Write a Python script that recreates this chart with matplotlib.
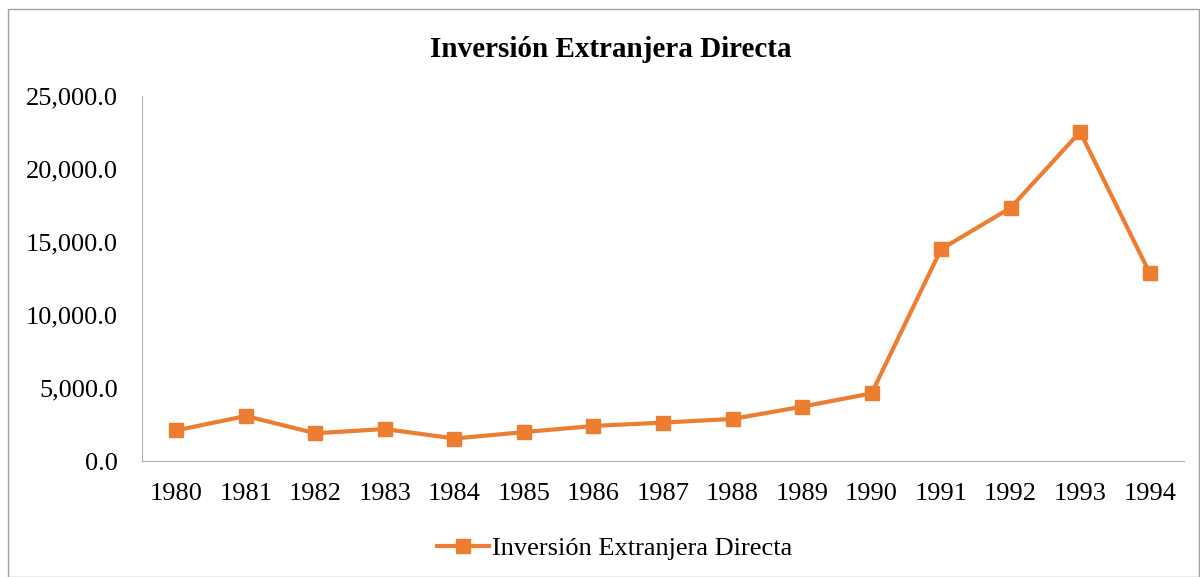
import matplotlib.pyplot as plt
from matplotlib.patches import Rectangle
from matplotlib.ticker import FuncFormatter

# Datos
anios = ['1980', '1981', '1982', '1983', '1984', '1985', '1986', '1987',
         '1988', '1989', '1990', '1991', '1992', '1993', '1994']
ied = [2100, 3080, 1900, 2190, 1540, 1980, 2400, 2630,
       2880, 3720, 4630, 14500, 17330, 22530, 12870]

plt.rcParams['font.family'] = ['Liberation Serif', 'DejaVu Serif']

fig = plt.figure(figsize=(12, 5.77), dpi=100)
ax = fig.add_axes([0.118, 0.201, 0.869, 0.633])

x = range(len(anios))
ax.plot(x, ied, color='#ED7D31', linewidth=3, marker='s', markersize=10,
        label='Inversión Extranjera Directa')

ax.set_xlim(-0.5, len(anios) - 0.5)
ax.set_ylim(0, 25000)
ax.set_yticks(range(0, 25001, 5000))
ax.yaxis.set_major_formatter(FuncFormatter(lambda v, p: f'{v:,.1f}'))
ax.set_xticks(list(x))
ax.set_xticklabels(anios)
ax.tick_params(axis='both', length=0, labelsize=19, colors='black')
ax.tick_params(axis='x', pad=16)
ax.tick_params(axis='y', pad=17)

for s in ['top', 'right']:
    ax.spines[s].set_visible(False)
ax.spines['left'].set_color('#b0b0b0')
ax.spines['bottom'].set_color('#b0b0b0')

fig.text(0.509, 0.915, 'Inversión Extranjera Directa', ha='center', va='center',
         fontsize=21, fontweight='bold')

fig.legend(loc='center', bbox_to_anchor=(0.512, 0.05), frameon=False,
           fontsize=19, handlelength=2.0, handletextpad=0.1)

fig.patches.append(Rectangle((0.007, 0.0), 0.992, 0.984, transform=fig.transFigure,
                             fill=False, edgecolor='#a0a0a0', linewidth=1))

fig.savefig('out.png', dpi=100)
